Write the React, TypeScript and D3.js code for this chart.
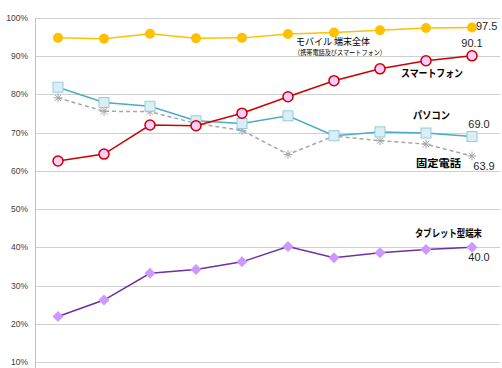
import React, { useEffect, useRef } from 'react';
import * as d3 from 'd3';

// survey rounds (x axis has no labels in the original)
const rounds = ['r1', 'r2', 'r3', 'r4', 'r5', 'r6', 'r7', 'r8', 'r9', 'r10'];

const mobileAll = [94.8, 94.6, 95.9, 94.7, 94.8, 95.8, 96.2, 96.8, 97.4, 97.5];
const smartphone = [62.6, 64.4, 72.0, 71.8, 75.1, 79.4, 83.6, 86.7, 88.8, 90.1];
const pc = [81.9, 77.9, 76.9, 73.1, 72.4, 74.4, 69.2, 70.2, 69.9, 69.0];
const fixedPhone = [79.1, 75.6, 75.5, 72.4, 70.6, 64.3, 69.1, 67.9, 67.0, 63.9];
const tablet = [21.9, 26.2, 33.2, 34.2, 36.2, 40.2, 37.3, 38.6, 39.4, 40.0];

const yTicks = [10, 20, 30, 40, 50, 60, 70, 80, 90, 100];

const JP = '"Noto Sans CJK JP", sans-serif';
const LAT = '"Liberation Sans", Arial, sans-serif';

const App = () => {
  const svgRef = useRef<SVGSVGElement>(null);

  useEffect(() => {
    const svg = d3.select(svgRef.current);
    svg.selectAll('*').remove();

    const x = d3.scalePoint().domain(rounds).range([58, 472]);
    const y = d3.scaleLinear().domain([0, 100]).range([400.2, 18]);

    // gridlines
    svg
      .append('g')
      .selectAll('line')
      .data(yTicks)
      .join('line')
      .attr('x1', 35)
      .attr('x2', 500)
      .attr('y1', (d) => Math.round(y(d)) + 0.5)
      .attr('y2', (d) => Math.round(y(d)) + 0.5)
      .attr('stroke', '#d0d0d0')
      .attr('stroke-width', 1);

    // y axis
    svg
      .append('line')
      .attr('x1', 35.5)
      .attr('x2', 35.5)
      .attr('y1', 18)
      .attr('y2', 368)
      .attr('stroke', '#c0c0c0');

    svg
      .append('g')
      .selectAll('text')
      .data(yTicks)
      .join('text')
      .attr('x', 28)
      .attr('y', (d) => y(d))
      .attr('dy', '0.35em')
      .attr('text-anchor', 'end')
      .attr('font-family', LAT)
      .attr('font-size', 8.5)
      .attr('fill', '#404040')
      .text((d) => `${d}%`);

    const line = d3
      .line<number>()
      .x((_, i) => x(rounds[i])!)
      .y((d) => y(d));

    const drawLine = (vals: number[], color: string, dash?: string) => {
      svg
        .append('path')
        .datum(vals)
        .attr('d', line)
        .attr('fill', 'none')
        .attr('stroke', color)
        .attr('stroke-width', 1.5)
        .attr('stroke-dasharray', dash || null);
    };

    // fixed phone (grey dashed, asterisk markers)
    drawLine(fixedPhone, '#a6a6a6', '4,3');
    const star = svg.append('g').attr('stroke', '#a6a6a6').attr('stroke-width', 1);
    fixedPhone.forEach((v, i) => {
      const cx = x(rounds[i])!;
      const cy = y(v);
      const r = 4.5;
      for (let k = 0; k < 4; k++) {
        const a = (k * Math.PI) / 4;
        star
          .append('line')
          .attr('x1', cx - r * Math.cos(a))
          .attr('y1', cy - r * Math.sin(a))
          .attr('x2', cx + r * Math.cos(a))
          .attr('y2', cy + r * Math.sin(a));
      }
    });

    // PC
    drawLine(pc, '#4bacc6');
    svg
      .append('g')
      .selectAll('rect')
      .data(pc)
      .join('rect')
      .attr('x', (_, i) => x(rounds[i])! - 5)
      .attr('y', (d) => y(d) - 5)
      .attr('width', 10)
      .attr('height', 10)
      .attr('fill', '#dbeef3')
      .attr('stroke', '#93cddd')
      .attr('stroke-width', 1);

    // mobile total
    drawLine(mobileAll, '#ffc000');
    svg
      .append('g')
      .selectAll('circle')
      .data(mobileAll)
      .join('circle')
      .attr('cx', (_, i) => x(rounds[i])!)
      .attr('cy', (d) => y(d))
      .attr('r', 5)
      .attr('fill', '#ffc000');

    // smartphone
    drawLine(smartphone, '#cc0000');
    svg
      .append('g')
      .selectAll('circle')
      .data(smartphone)
      .join('circle')
      .attr('cx', (_, i) => x(rounds[i])!)
      .attr('cy', (d) => y(d))
      .attr('r', 5)
      .attr('fill', '#ffccff')
      .attr('stroke', '#cc0000')
      .attr('stroke-width', 1.5);

    // tablet
    drawLine(tablet, '#7030a0');
    svg
      .append('g')
      .selectAll('path.dia')
      .data(tablet)
      .join('path')
      .attr('class', 'dia')
      .attr('d', (d, i) => {
        const cx = x(rounds[i])!;
        const cy = y(d);
        const r = 5.5;
        return `M${cx},${cy - r}L${cx + r},${cy}L${cx},${cy + r}L${cx - r},${cy}Z`;
      })
      .attr('fill', '#cc99ff');

    // end value labels
    const last = rounds.length - 1;
    const xl = x(rounds[last])!;
    const val = (t: string, dx: number, yy: number, anchor: string) =>
      svg
        .append('text')
        .attr('x', xl + dx)
        .attr('y', yy)
        .attr('dy', '0.35em')
        .attr('text-anchor', anchor)
        .attr('font-family', LAT)
        .attr('font-size', 11)
        .attr('fill', '#262626')
        .text(t);

    val(mobileAll[last].toFixed(1), 4, y(mobileAll[last]) - 1, 'start');
    val(smartphone[last].toFixed(1), 0, y(smartphone[last]) - 13, 'middle');
    val(pc[last].toFixed(1), 7, y(pc[last]) - 12, 'middle');
    val(fixedPhone[last].toFixed(1), 12, y(fixedPhone[last]) + 10, 'middle');
    val(tablet[last].toFixed(1), 7, y(tablet[last]) + 10, 'middle');

    // series names (widths fitted to the original's proportional font)
    const name = (t: string, xx: number, yy: number, w: number, size = 10.5, weight = 'bold') =>
      svg
        .append('text')
        .attr('x', xx)
        .attr('y', yy)
        .attr('dy', '0.35em')
        .attr('font-family', JP)
        .attr('font-size', size)
        .attr('font-weight', weight)
        .attr('fill', '#000')
        .attr('textLength', w)
        .attr('lengthAdjust', 'spacingAndGlyphs')
        .text(t);

    name('モバイル 端末全体', 296, 42, 74, 9.5, 'normal');
    name('（携帯電話及びスマートフォン）', 294, 52.5, 92, 7, 'normal');
    name('スマートフォン', 401, 73, 62);
    name('パソコン', 413, 115, 37);
    name('固定電話', 416, 163, 45);
    name('タブレット型端末', 415, 233, 67);
  }, []);

  return (
    <svg
      ref={svgRef}
      width={502}
      height={368}
      style={{ position: 'absolute', left: 0, top: 0, background: '#fff' }}
    />
  );
};

export default App;
